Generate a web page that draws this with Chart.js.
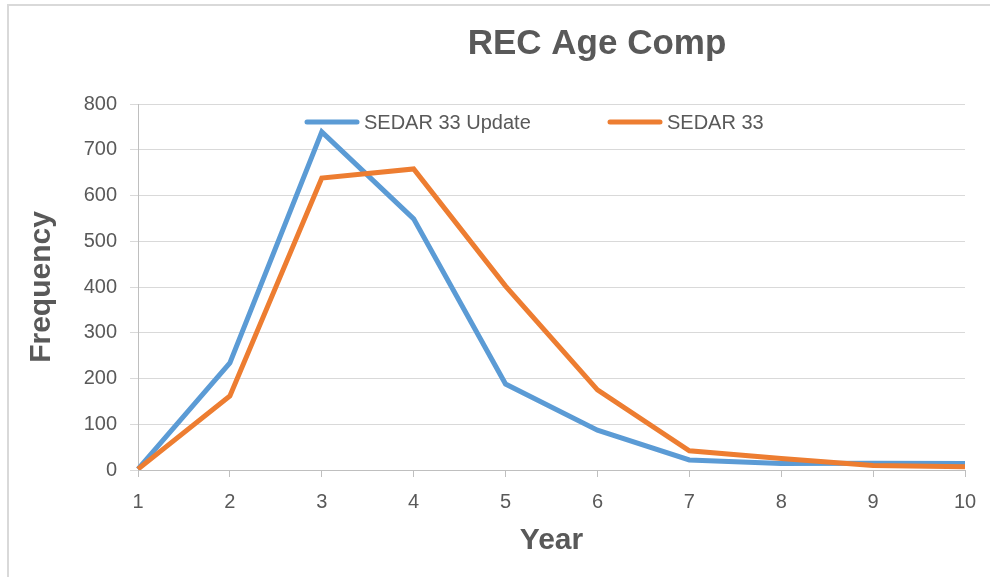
<!DOCTYPE html>
<html>
<head>
<meta charset="utf-8">
<script src="https://cdn.jsdelivr.net/npm/chart.js@4/dist/chart.umd.min.js"></script>
<style>
  html, body { margin: 0; padding: 0; background: #fff; }
  #wrap { position: relative; width: 990px; height: 577px; }
</style>
</head>
<body>
<div id="wrap"><canvas id="canvas" width="990" height="577"></canvas></div>
<script>
var years = ['1', '2', '3', '4', '5', '6', '7', '8', '9', '10'];
var sedarUpdate = [2, 234, 739, 549, 188, 87, 22, 14, 15, 14];
var sedar33 = [2, 162, 638, 658, 402, 175, 42, 25, 10, 7];
var seriesNames = ['SEDAR 33 Update', 'SEDAR 33'];
var seriesColors = ['#5b9bd5', '#ed7d31'];

var txtColor = '#595959';
var fontFam = '"Liberation Sans", Arial, sans-serif';

// frame, title and in-plot legend like the Excel original
var decor = {
    id: 'decor',
    beforeDraw: function(chart){
        var ctx = chart.ctx;
        ctx.save();
        ctx.fillStyle = '#fff';
        ctx.fillRect(0, 0, chart.width, chart.height);
        ctx.strokeStyle = '#d9d9d9';
        ctx.lineWidth = 2;
        ctx.beginPath();
        ctx.moveTo(8, 577);
        ctx.lineTo(8, 5);
        ctx.lineTo(990, 5);
        ctx.stroke();
        ctx.restore();
    },
    afterDraw: function(chart){
        var ctx = chart.ctx;
        ctx.save();
        ctx.fillStyle = txtColor;
        ctx.font = 'bold 35px ' + fontFam;
        ctx.textAlign = 'center';
        ctx.textBaseline = 'middle';
        ctx.fillText('REC Age Comp', 597, 44);

        // legend
        var xs = [307, 610];
        ctx.font = '20px ' + fontFam;
        ctx.textAlign = 'left';
        chart.data.datasets.forEach(function(ds, i){
            ctx.strokeStyle = ds.borderColor;
            ctx.lineWidth = 5;
            ctx.lineCap = 'round';
            ctx.beginPath();
            ctx.moveTo(xs[i], 122);
            ctx.lineTo(xs[i] + 50, 122);
            ctx.stroke();
            ctx.fillStyle = txtColor;
            ctx.fillText(ds.label, xs[i] + 57, 123);
        });
        ctx.restore();
    }
};

const ctx = document.getElementById('canvas').getContext('2d');
const myChart = new Chart(ctx, {
    type: 'line',
    data: {
        labels: years,
        datasets: [{
            label: seriesNames[0],
            data: sedarUpdate,
            borderColor: seriesColors[0],
            backgroundColor: seriesColors[0],
            borderWidth: 5,
            pointRadius: 0,
            tension: 0,
            order: 1
        }, {
            label: seriesNames[1],
            data: sedar33,
            borderColor: seriesColors[1],
            backgroundColor: seriesColors[1],
            borderWidth: 5,
            pointRadius: 0,
            tension: 0,
            order: 0
        }]
    },
    options: {
        responsive: false,
        animation: false,
        layout: {
            padding: { left: 0, right: 25, top: 104, bottom: 0 }
        },
        scales: {
            x: {
                offset: false,
                grid: {
                    drawOnChartArea: false,
                    drawTicks: true,
                    tickLength: 7,
                    color: '#bfbfbf'
                },
                border: { color: '#bfbfbf', width: 1 },
                ticks: {
                    color: txtColor,
                    padding: 13,
                    maxRotation: 0,
                    font: { size: 20, family: fontFam }
                },
                title: {
                    display: true,
                    text: 'Year',
                    color: txtColor,
                    padding: { top: 0, bottom: 18 },
                    font: { size: 30, weight: 'bold', family: fontFam }
                },
                afterFit: function(scale){ scale.height = 107; }
            },
            y: {
                min: 0,
                max: 800,
                grid: {
                    color: '#d9d9d9',
                    tickLength: 8
                },
                border: { color: '#bfbfbf', width: 1 },
                ticks: {
                    stepSize: 100,
                    color: txtColor,
                    padding: 13,
                    font: { size: 20, family: fontFam }
                },
                title: {
                    display: true,
                    text: 'Frequency',
                    color: txtColor,
                    padding: { top: 24, bottom: 0 },
                    font: { size: 30, weight: 'bold', family: fontFam }
                },
                afterFit: function(scale){ scale.width = 138; }
            }
        },
        plugins: {
            legend: { display: false },
            title: { display: false },
            tooltip: { enabled: false }
        }
    },
    plugins: [decor]
});
</script>
</body>
</html>
